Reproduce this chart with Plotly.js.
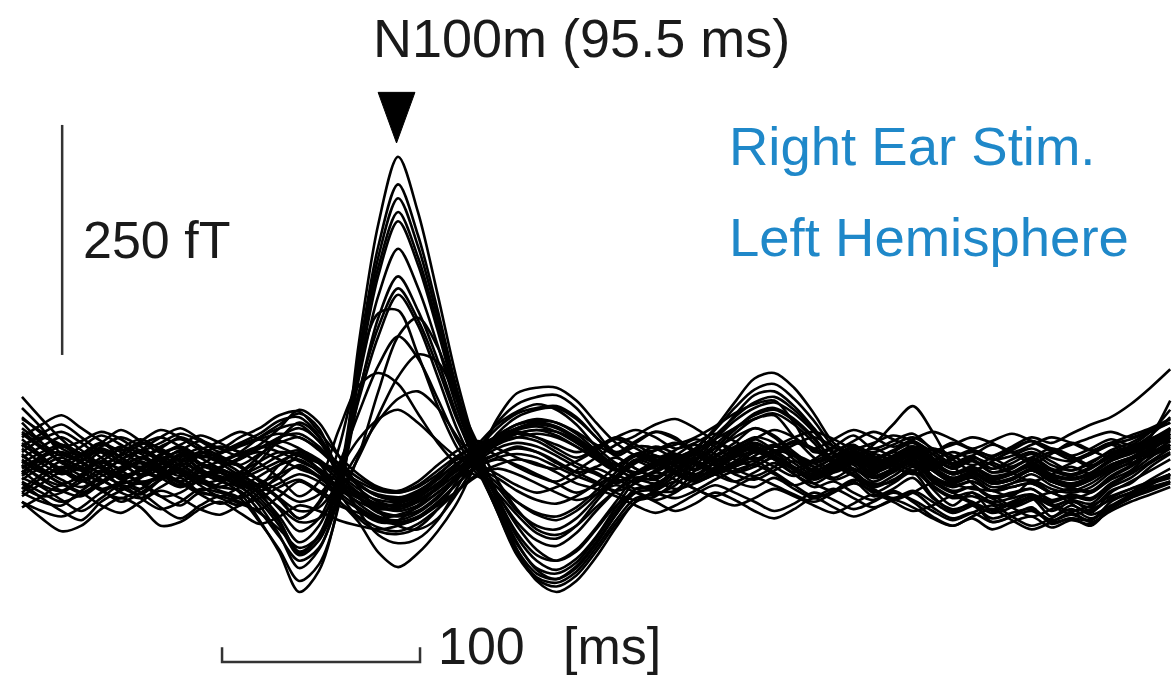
<!DOCTYPE html>
<html>
<head>
<meta charset="utf-8">
<script src="https://cdn.plot.ly/plotly-3.0.1.min.js"></script>
<style>
  html, body { margin: 0; padding: 0; background: #ffffff; }
  #chart { width: 1173px; height: 679px; }
</style>
</head>
<body>
<div id="chart"></div>
<script>
// ---- time axis (ms) ----
const timeMs = [-95,-85,-75,-65,-55,-45,-35,-25,-15,-5,5,15,25,35,45,55,65,75,85,95,105,115,125,135,145,155,165,175,185,195,205,215,225,235,245,255,265,275,285,295,305,315,325,335,345,355,365,375,385,395,405,415,425,435,445,455,465,475,485];

// ---- channel waveforms (fT) ----
const chA1 = [12,-6,-20,-12,4,-14,-26,-8,10,-4,-16,-30, -60,-95,-138,-115,-40,130,262,335,275,185,90,15,-40,-92,-126,-138,-126,-100, -68,-40,-34,-18,4,28,54,76,80,64,40,12,-6,-22,-12,0,-26,-44,-30,-50,-42,-36,-56,-44,-52,-30,-18,-6,6];
const chA2 = [28,10,-8,4,18,2,-10,6,14,0,-8,-22, -44,-76,-112,-92,-30,118,238,305,250,168,80,10,-38,-84,-114,-124,-112,-86, -54,-26,-22,-4,16,40,68,94,100,84,56,24,10,-10,6,14,-6,-20,-26,-28,-34,-18,-30,-36,-30,-16,-6,14,34];
const chA3 = [-24,-34,-30,-18,-6,-24,-32,-16,-4,-18,-28,-36, -62,-92,-126,-108,-44,110,226,290,238,160,76,2,-50,-98,-124,-132,-120,-94, -64,-40,-30,-28,-6,14,34,50,56,44,24,0,-12,-30,-20,-8,-34,-50,-42,-62,-56,-46,-64,-58,-66,-46,-34,-20,-10];
const chA4 = [46,24,4,12,24,8,-2,12,18,2,-4,-14, -30,-60,-96,-76,-16,112,215,275,226,152,72,6,-34,-78,-104,-114,-102,-78, -46,-18,-14,2,18,38,62,82,88,72,48,20,8,-4,2,12,-12,-20,-14,-28,-20,-16,-26,-30,-24,-8,4,30,70];
const chA5 = [-6,-22,-28,-14,-2,-16,-20,-14,0,-14,-24,-28, -50,-78,-104,-90,-34,98,206,265,218,146,68,0,-50,-96,-122,-128,-116,-90, -60,-36,-32,-22,0,18,38,56,62,50,30,4,-10,-24,-16,-6,-24,-36,-34,-42,-44,-34,-50,-40,-46,-28,-20,-2,12];
const chA6 = [18,2,-10,-2,14,4,-12,-4,12,-6,-12,-20, -36,-62,-94,-78,-22,92,184,235,193,130,60,2,-44,-86,-112,-118,-106,-80, -50,-26,-24,-8,10,28,48,62,68,56,36,12,0,-14,-8,4,-16,-28,-24,-34,-30,-26,-38,-32,-36,-20,-8,8,22];
const chA7 = [0,-14,-22,-10,4,-6,-18,-12,2,-8,-18,-24, -40,-66,-98,-82,-30,74,160,205,168,114,52,-4,-48,-92,-118,-124,-110,-84, -54,-30,-26,-12,4,22,40,54,60,48,28,4,-10,-20,-18,-2,-22,-34,-30,-40,-36,-32,-44,-38,-42,-24,-14,2,14];
const chA8 = [62,40,12,6,18,8,-6,2,16,2,-8,-16, -32,-56,-84,-66,-14,78,150,192,158,106,48,2,-36,-74,-98,-104,-92,-68, -40,-14,-16,0,14,32,52,68,74,60,38,14,4,-12,-4,8,-14,-24,-18,-28,-24,-20,-30,-26,-28,-12,0,18,40];

const chM1 = [-10,8,14,4,-8,6,16,6,-6,10,4,-8, -26,-48,-72,-58,-10,70,140,185,152,96,38,-4,-32,-62,-82,-88,-74,-50, -28,-10,2,8,-4,10,24,40,30,10,-6,4,14,2,10,20,6,-10,-2,-16,-10,-2,-14,-20,-12,0,8,22,38];
const chM2 = [20,30,22,8,-2,12,24,18,6,14,8,0, -18,-36,-58,-40,18,104,165,168,120,64,18,-10,-30,-54,-74,-80,-66,-40, -16,2,10,0,-10,4,18,30,24,6,-8,-2,10,-6,4,16,-2,-14,-8,-20,-16,-6,-18,-24,-16,-4,6,16,30];
const chM3 = [-30,-40,-44,-28,-16,-30,-36,-24,-14,-30,-34,-40, -52,-70,-90,-78,-40,10,80,140,160,128,70,18,-30,-66,-92,-104,-94,-70, -44,-30,-38,-30,-14,2,12,20,10,-4,-20,-28,-18,-34,-26,-14,-36,-48,-44,-58,-52,-48,-60,-54,-60,-40,-30,-16,-4];
const chM4 = [4,-8,-4,10,22,14,2,-6,8,18,10,-2, -18,-38,-58,-42,0,56,108,140,116,72,26,-6,-24,-50,-66,-70,-58,-36, -14,4,-4,10,22,12,0,14,6,-8,4,14,22,8,16,26,12,-4,6,-8,-2,6,-6,-12,-4,10,18,32,52];
const chM5 = [-16,-2,8,-6,-18,-4,8,-4,-18,-8,-14,-22, -30,-46,-62,-58,-30,8,54,96,120,112,70,24,-16,-48,-70,-76,-66,-46, -28,-16,-20,-8,6,18,30,40,32,14,-2,-14,-4,-18,-8,2,-18,-30,-24,-36,-32,-26,-40,-34,-38,-22,-10,4,18];
const chM6 = [36,20,2,-6,4,18,28,16,4,12,20,14, 2,-14,-34,-18,38,86,100,88,56,24,0,-12,-24,-40,-52,-56,-46,-28, -8,10,4,-8,-16,-2,14,24,14,-2,-12,0,12,0,8,18,2,-10,-4,-14,-10,0,-12,-16,-10,4,12,20,28];
const chM7 = [-4,10,20,12,0,-12,-4,10,20,8,-4,-12, -22,-36,-50,-46,-20,14,48,72,80,62,30,0,-20,-40,-54,-60,-50,-32, -12,6,0,8,16,28,40,50,54,30,8,-6,2,-12,-4,6,-12,-22,-18,-28,-24,-20,-30,-26,-30,-14,-2,12,26];
const chM8 = [24,8,-6,-16,-8,6,14,4,-10,-20,-16,-8, -16,-28,-40,-32,-4,28,50,60,46,26,8,-4,-14,-28,-38,-42,-34,-20, -2,12,6,-6,-14,-4,10,18,10,-6,-16,-6,6,-4,2,12,-4,-16,-10,-20,-16,-6,-18,-22,-14,0,8,14,22];

const chB1 = [-20,-36,-50,-60,-40,-28,-20,-34,-44,-30,-36,-44, -30,-10,10,-5,-38,-62,-95,-111,-96,-72,-40,5,50,78,84,84,70,46, 24,10,2,-10,-18,-6,8,14,6,-10,-24,-18,-30,-38,-28,-40,-56,-66,-58,-70,-62,-56,-68,-60,-64,-48,-36,-22,-10];
const chB2 = [10,-4,-16,-24,-12,-2,8,-6,-18,-4,4,14, 30,44,56,40,-10,-50,-76,-85,-80,-60,-24,14,46,66,74,76,62,36, 14,26,36,30,12,0,12,22,14,-4,-14,-2,10,-2,6,16,0,-10,-6,-18,-14,-4,-16,-20,-14,0,8,18,30];
const chB3 = [-40,-50,-56,-46,-30,-22,-36,-48,-40,-26,-30,-36, -24,0,14,2,-30,-58,-72,-75,-68,-48,-16,16,40,56,62,64,52,30, 10,-4,-16,-26,-20,-10,-2,4,-8,-22,-34,-26,-36,-46,-38,-30,-46,-58,-52,-62,-56,-50,-62,-58,-60,-46,-34,-26,-18];
const chB4 = [52,34,18,10,20,30,20,8,16,26,18,10, 22,40,60,46,10,-24,-50,-66,-70,-58,-30,4,34,52,60,62,50,30, 10,20,18,6,-6,8,20,28,16,2,-10,4,16,6,14,24,8,-4,4,-8,-4,8,-4,-10,-2,12,20,28,40];
const chB5 = [-12,2,12,2,-10,-20,-12,2,-6,-18,-24,-14, 4,28,46,30,-14,-48,-62,-60,-44,-24,0,22,44,58,66,60,44,20, 2,-8,-2,10,4,-10,-18,-8,2,-10,-20,-8,4,-8,0,10,-6,-18,-12,-24,-20,-10,-22,-28,-20,-6,2,10,18];
const chB6 = [8,20,30,16,2,10,22,30,20,8,14,24, 34,48,52,32,-6,-34,-50,-55,-50,-36,-10,14,32,44,48,46,34,16, 0,12,16,22,30,42,56,66,70,46,14,20,32,18,26,34,16,2,10,-4,2,12,0,-6,2,16,24,36,50];
const chB7 = [-26,-10,4,-2,-16,-26,-14,0,6,-8,-16,-8, 10,30,40,26,-8,-32,-42,-45,-38,-24,-4,14,30,40,44,40,28,12, -4,-14,-8,4,14,4,-8,-2,8,-4,-14,-4,8,-4,4,14,-2,-14,-8,-20,-16,-6,-18,-24,-16,-2,6,12,20];
const chB8 = [0,-16,-28,-34,-20,-8,2,-10,-22,-12,-2,6, 18,30,34,20,-4,-22,-32,-35,-32,-22,-6,10,24,34,38,36,26,10, -6,4,10,-2,-12,-4,10,18,10,-4,-12,2,14,4,10,20,4,-8,-2,-12,-8,2,-10,-14,-8,6,14,22,32];

const chD1 = [74,50,28,12,24,38,26,14,22,32,24,14, 18,26,18,4,-6,-18,-28,-30,-24,-10,6,14,26,36,30,18,8,18, 30,22,10,2,12,24,16,6,14,26,18,8,20,14,22,30,18,8,14,6,10,18,8,4,12,22,28,36,46];
const chD2 = [-2,6,-6,-18,-8,4,-4,-14,-24,-16,-6,-14, -24,-14,0,-12,-26,-36,-44,-42,-34,-20,-6,4,12,20,14,2,-8,-2, 8,-4,-12,-4,8,2,-10,-16,-6,4,-6,-16,-8,4,-2,-10,-4,8,16,10,20,30,24,34,44,52,66,84,104];
const chD3 = [-14,-24,-38,-50,-36,-22,-30,-46,-58,-44,-34,-42, -48,-34,-18,-30,-44,-52,-58,-54,-46,-30,-14,-2,6,0,-10,-20,-30,-22, -12,-20,-30,-36,-28,-16,-6,0,-10,-22,-14,-4,6,22,44,64,36,0,-20,-36,-46,-38,-30,-42,-54,-44,-32,-20,-12];
const chD4 = [34,18,4,-4,8,20,12,-2,-12,0,12,22, 30,40,44,26,0,-20,-34,-38,-30,-12,8,20,10,-2,-12,-18,-6,8, 22,32,44,50,40,26,14,6,16,10,2,14,26,36,28,18,6,-2,8,0,-8,4,14,8,-2,10,18,28,38];
const chD5 = [-30,-14,-2,-12,-26,-40,-30,-16,-8,-22,-34,-24, -12,0,6,-8,-26,-40,-48,-46,-40,-26,-10,0,-10,-22,-30,-24,-14,-4, -14,-26,-20,-8,4,-6,-18,-24,-14,-26,-36,-28,-16,-26,-36,-28,-40,-52,-44,-34,-46,-56,-48,-38,-50,-36,-26,-18,-10];
const chD6 = [20,34,44,30,14,2,16,30,40,28,18,30, 40,54,58,36,10,-10,-24,-28,-18,0,16,26,18,8,0,-4,4,16, 28,18,8,16,28,20,6,0,10,22,30,20,10,18,8,0,12,24,16,6,16,26,18,10,18,28,22,36,60];
const chD7 = [-46,-34,-22,-30,-44,-52,-40,-28,-36,-48,-54,-44, -36,-24,-16,-28,-40,-56,-68,-72,-64,-48,-28,-10,0,6,2,-8,-20,-26, -34,-44,-52,-44,-32,-22,-30,-40,-50,-42,-30,-38,-48,-40,-30,-38,-50,-60,-52,-44,-56,-66,-58,-48,-58,-46,-36,-28,-20];
const chD8 = [6,-8,-20,-30,-18,-6,4,-8,-18,-28,-20,-8, 4,14,10,-4,-18,-30,-38,-40,-32,-16,2,14,24,30,26,14,2,-8, -18,-8,4,12,2,-10,-2,10,20,10,-2,8,18,8,-4,6,16,6,-6,4,14,4,-6,2,12,22,14,24,34];
const chD9 = [40,24,10,20,32,22,8,18,30,20,6,0, 12,24,30,16,-4,-22,-34,-36,-28,-14,2,16,28,38,42,36,24,10, 0,-10,0,12,4,-6,4,16,8,-4,6,18,10,-2,8,20,12,0,10,22,14,2,12,24,16,8,14,20,26];
const chD10 = [-40,-58,-72,-66,-48,-36,-46,-66,-62,-48,-40,-52, -64,-56,-44,-50,-60,-66,-70,-66,-58,-44,-28,-12,-4,-10,-20,-30,-38,-32, -22,-30,-40,-50,-42,-30,-38,-50,-58,-48,-36,-46,-56,-48,-38,-46,-58,-66,-56,-48,-60,-70,-62,-52,-62,-50,-40,-32,-24];
const chD11 = [14,28,36,24,8,-4,6,20,28,16,4,12, 20,14,4,-6,-24,-42,-56,-60,-52,-36,-14,6,22,30,34,30,20,6, -6,4,16,24,14,2,-8,2,14,24,16,4,-6,4,14,6,-4,6,16,8,-2,8,18,10,0,8,16,24,30];
const chD12 = [-18,-30,-40,-32,-20,-10,-20,-34,-30,-16,-8,-18, -28,-20,-10,-18,-34,-48,-60,-64,-58,-42,-20,0,12,18,14,4,-8,-18, -28,-20,-8,-16,-26,-34,-24,-14,-22,-32,-40,-30,-20,-28,-38,-30,-20,-30,-40,-48,-40,-32,-42,-50,-44,-34,-26,-20,-14];
const chD13 = [2,14,22,12,-4,-14,-6,8,0,-12,-4,8, 14,6,-4,-12,-22,-36,-46,-50,-44,-30,-12,8,24,34,38,32,20,8, -4,-14,-6,6,16,8,-4,-12,-2,10,2,-8,2,12,4,-6,4,14,6,-4,6,14,4,-6,4,14,20,28,36];
const chD14 = [50,36,20,26,36,28,16,24,34,26,14,20, 28,34,30,18,2,-14,-26,-30,-22,-6,10,22,30,34,30,22,14,20, 30,38,30,18,24,34,26,14,20,30,36,28,18,24,32,26,16,22,30,24,14,22,30,24,16,24,32,40,50];
const chD15 = [-34,-20,-8,-16,-28,-36,-26,-12,-20,-32,-42,-34, -20,-10,-2,-14,-30,-46,-58,-62,-56,-40,-20,-2,8,12,8,-2,-12,-20, -30,-38,-28,-18,-26,-36,-44,-36,-26,-34,-44,-52,-42,-32,-40,-50,-44,-34,-42,-52,-46,-36,-44,-54,-48,-38,-30,-24,-18];
const chD16 = [22,8,-4,4,16,8,-6,-14,-2,10,2,-10, -2,10,16,6,-12,-30,-44,-48,-40,-24,-4,14,28,40,46,42,30,14, 0,10,20,12,0,-8,2,14,22,12,2,10,20,10,0,8,18,10,0,8,18,26,16,6,14,24,18,26,34];
const chD17 = [-8,4,-4,-16,-26,-18,-6,6,-4,-16,-24,-16, -6,4,12,2,-16,-36,-52,-56,-50,-34,-14,4,18,24,20,10,-2,-10, -20,-10,0,-8,-18,-10,0,8,-2,-12,-4,6,-4,-14,-6,4,-6,-16,-8,2,-8,-18,-10,-2,-10,-2,6,14,22];
const chD18 = [30,44,54,40,26,16,26,38,30,18,26,36, 28,20,10,2,-10,-26,-40,-44,-36,-20,0,18,32,44,50,46,36,22, 12,24,36,28,16,6,16,28,38,30,18,28,38,30,20,28,36,28,18,26,34,26,16,22,30,36,30,38,46];

const channels = [chA1,chA2,chA3,chA4,chA5,chA6,chA7,chA8,
                  chM1,chM2,chM3,chM4,chM5,chM6,chM7,chM8,
                  chB1,chB2,chB3,chB4,chB5,chB6,chB7,chB8,
                  chD1,chD2,chD3,chD4,chD5,chD6,chD7,chD8,chD9,chD10,
                  chD11,chD12,chD13,chD14,chD15,chD16,chD17,chD18];

// ---- labels ----
const titleLabel = 'N100m (95.5 ms)';
const stimLabel = 'Right Ear Stim.';
const hemiLabel = 'Left Hemisphere';
const ampScaleValue = 250;      // fT
const ampScaleLabel = '250 fT';
const timeScaleValue = 100;     // ms
const timeScaleLabel = '100';
const timeUnitLabel = '[ms]';

// ---- drawing ----
const traces = channels.map(function (vals) {
  return {
    x: timeMs, y: vals, type: 'scatter', mode: 'lines',
    line: { color: '#000000', width: 2.6, shape: 'spline', smoothing: 0.9 },
    hoverinfo: 'skip', showlegend: false
  };
});

const ampBarT = -74.7, ampBarBottom = 119.6;
const timeBarT0 = 6.06, timeBarY = -214, timeBarTick = 16;
const triTop = 405, triTip = 350, triHalf = 9.3, triCenter = 94.2;

const W = 1173, H = 679;
function px(xp) { return xp / W; }
function py(yp) { return 1 - yp / H; }
const FONT = 'Liberation Sans, Arial, sans-serif';

const layout = {
  width: W, height: H,
  margin: { l: 0, r: 0, t: 0, b: 0, pad: 0 },
  paper_bgcolor: '#ffffff', plot_bgcolor: '#ffffff',
  showlegend: false,
  xaxis: { range: [-106.1, 486.4], visible: false, showgrid: false, zeroline: false, fixedrange: true },
  yaxis: { range: [-232.6, 505.4], visible: false, showgrid: false, zeroline: false, fixedrange: true },
  shapes: [
    { type: 'line', xref: 'x', yref: 'y', x0: ampBarT, x1: ampBarT, y0: ampBarBottom, y1: ampBarBottom + ampScaleValue,
      line: { color: '#333333', width: 2.5 } },
    { type: 'path', xref: 'x', yref: 'y',
      path: 'M ' + timeBarT0 + ',' + (timeBarY + timeBarTick) + ' L ' + timeBarT0 + ',' + timeBarY +
            ' L ' + (timeBarT0 + timeScaleValue) + ',' + timeBarY + ' L ' + (timeBarT0 + timeScaleValue) + ',' + (timeBarY + timeBarTick),
      line: { color: '#333333', width: 2.5 } },
    { type: 'path', xref: 'x', yref: 'y',
      path: 'M ' + (triCenter - triHalf) + ',' + triTop + ' L ' + (triCenter + triHalf) + ',' + triTop + ' L ' + triCenter + ',' + triTip + ' Z',
      fillcolor: '#000000', line: { color: '#000000', width: 1 } }
  ],
  annotations: [
    { xref: 'paper', yref: 'paper', x: px(581), y: py(38), xanchor: 'center', yanchor: 'middle', showarrow: false,
      text: titleLabel, font: { family: FONT, size: 54, color: '#1a1a1a' } },
    { xref: 'paper', yref: 'paper', x: px(727), y: py(146), xanchor: 'left', yanchor: 'middle', showarrow: false,
      text: stimLabel, font: { family: FONT, size: 54.5, color: '#1f88c9' } },
    { xref: 'paper', yref: 'paper', x: px(727), y: py(237), xanchor: 'left', yanchor: 'middle', showarrow: false,
      text: hemiLabel, font: { family: FONT, size: 54.5, color: '#1f88c9' } },
    { xref: 'paper', yref: 'paper', x: px(81), y: py(240), xanchor: 'left', yanchor: 'middle', showarrow: false,
      text: ampScaleLabel, font: { family: FONT, size: 52, color: '#1a1a1a' } },
    { xref: 'paper', yref: 'paper', x: px(436), y: py(646), xanchor: 'left', yanchor: 'middle', showarrow: false,
      text: timeScaleLabel, font: { family: FONT, size: 52, color: '#1a1a1a' } },
    { xref: 'paper', yref: 'paper', x: px(561), y: py(646), xanchor: 'left', yanchor: 'middle', showarrow: false,
      text: timeUnitLabel, font: { family: FONT, size: 52, color: '#1a1a1a' } }
  ]
};

Plotly.newPlot('chart', traces, layout, { staticPlot: true, displayModeBar: false });
</script>
</body>
</html>
